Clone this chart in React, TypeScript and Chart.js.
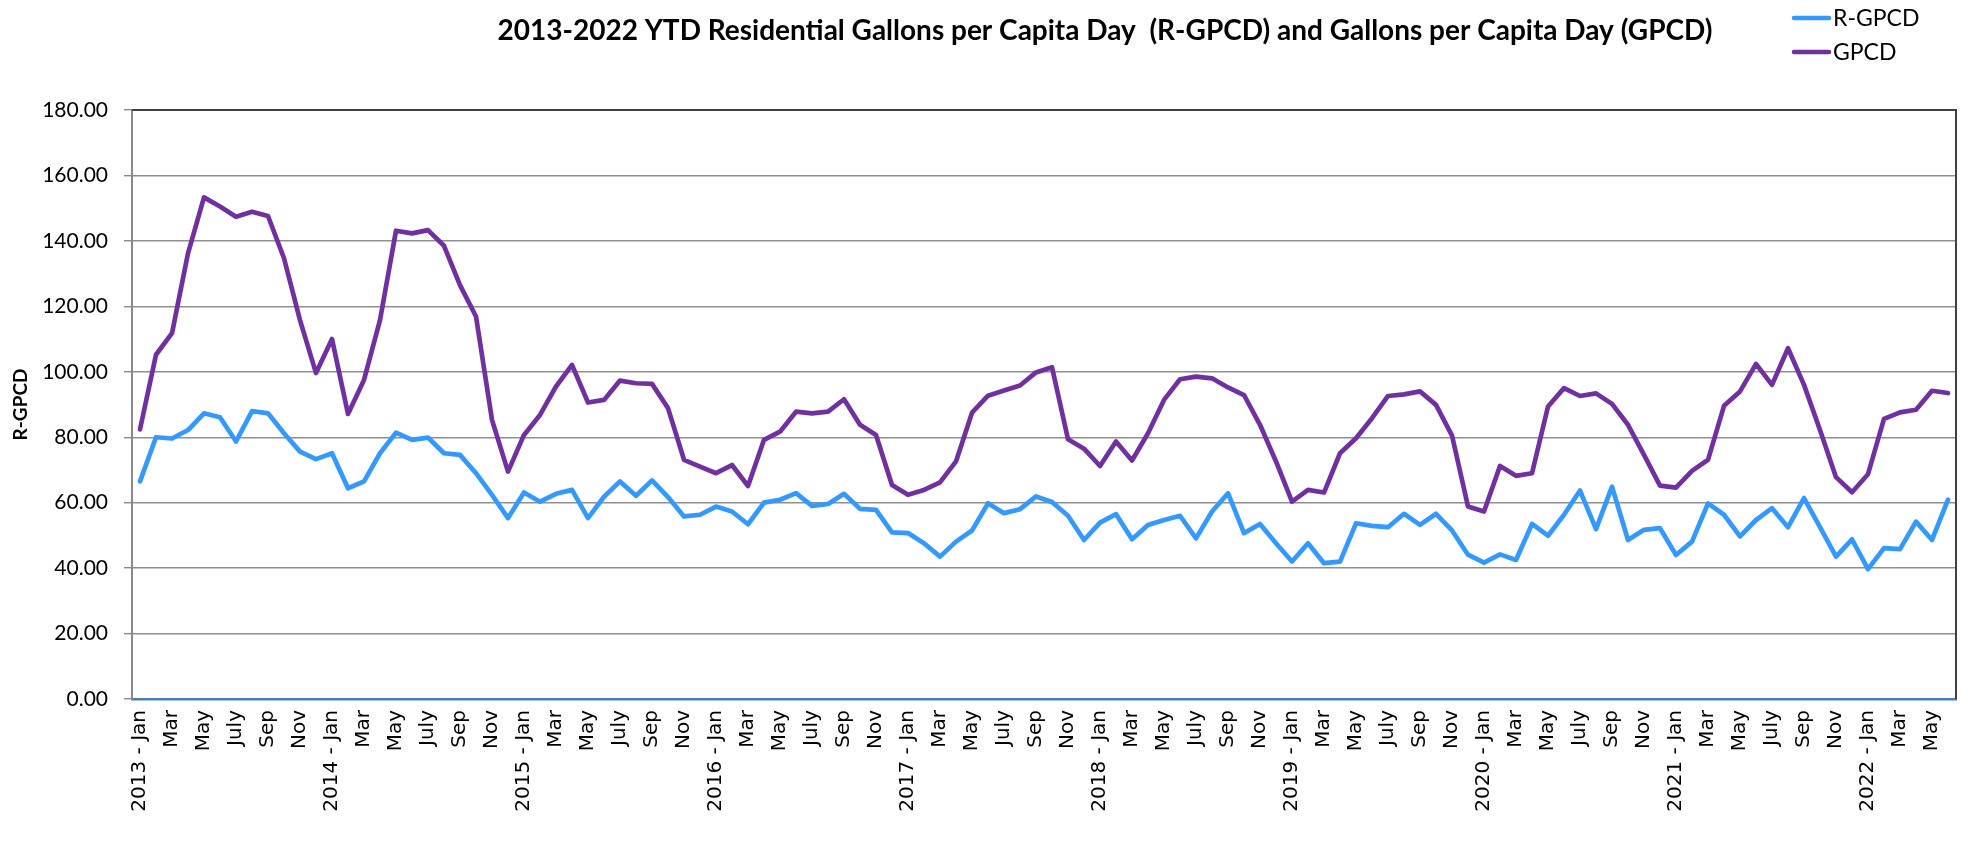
import React, { useEffect, useRef } from "react";
import { Chart, registerables } from "chart.js";

Chart.register(...registerables);

const chartTitle =
  "2013-2022 YTD Residential Gallons per Capita Day  (R-GPCD) and Gallons per Capita Day (GPCD)";
const yAxisTitle = "R-GPCD";

const years = [2013, 2014, 2015, 2016, 2017, 2018, 2019, 2020, 2021, 2022];
const monthNames = ["Jan", "Feb", "Mar", "Apr", "May", "June", "July", "Aug", "Sep", "Oct", "Nov", "Dec"];
const lastYearMonths = 6;

const categories: string[] = [];
years.forEach((y) => {
  monthNames.forEach((m, j) => {
    if (y === years[years.length - 1] && j >= lastYearMonths) return;
    categories.push(j === 0 ? `${y} - ${m}` : m);
  });
});

const rgpcd = [
  66.5, 80.0, 79.6, 82.2, 87.3, 86.1, 78.7, 88.0, 87.3, 81.2, 75.6, 73.3,
  75.1, 64.4, 66.5, 75.1, 81.4, 79.2, 79.9, 75.1, 74.6, 69.0, 62.4, 55.3,
  63.1, 60.3, 62.7, 63.9, 55.3, 61.8, 66.5, 62.1, 66.8, 61.7, 55.8, 56.3,
  58.8, 57.3, 53.4, 60.0, 60.9, 62.9, 59.0, 59.6, 62.7, 58.1, 57.8, 50.9,
  50.7, 47.6, 43.5, 48.1, 51.5, 59.8, 56.8, 58.0, 61.9, 60.2, 56.0, 48.6,
  53.9, 56.5, 48.8, 53.2, 54.7, 56.0, 49.1, 57.3, 62.9, 50.7, 53.5, 47.6,
  42.0, 47.6, 41.5, 42.0, 53.7, 52.9, 52.5, 56.6, 53.2, 56.6, 51.5, 44.1,
  41.7, 44.2, 42.5, 53.5, 49.9, 56.3, 63.7, 51.9, 64.9, 48.6, 51.7, 52.2,
  44.0, 48.1, 59.8, 56.3, 49.7, 54.7, 58.3, 52.5, 61.4, 52.5, 43.5, 48.8,
  39.7, 46.1, 45.8, 54.2, 48.6, 60.9,
];

const gpcd = [
  82.4, 105.2, 111.8, 136.2, 153.3, 150.5, 147.4, 148.9, 147.6, 134.7, 115.8, 99.6,
  110.0, 87.1, 97.5, 115.8, 143.1, 142.3, 143.3, 138.5, 126.5, 116.9, 85.3, 69.5,
  80.7, 86.8, 95.5, 102.1, 90.6, 91.4, 97.3, 96.5, 96.3, 88.9, 73.1, 71.0,
  69.0, 71.5, 65.1, 79.2, 81.7, 87.8, 87.3, 87.8, 91.6, 83.8, 80.7, 65.4,
  62.4, 63.9, 66.2, 72.6, 87.5, 92.7, 94.3, 95.8, 99.8, 101.4, 79.4, 76.5,
  71.2, 78.7, 72.9, 81.2, 91.4, 97.7, 98.5, 98.0, 95.2, 92.9, 83.8, 72.6,
  60.3, 63.9, 63.1, 75.1, 79.7, 85.8, 92.6, 93.1, 94.0, 89.9, 80.5, 58.8,
  57.3, 71.2, 68.2, 69.0, 89.4, 95.0, 92.6, 93.4, 90.2, 83.8, 74.6, 65.2,
  64.6, 69.7, 73.1, 89.6, 94.0, 102.4, 96.0, 107.2, 96.0, 82.2, 67.8, 63.2,
  68.7, 85.6, 87.6, 88.4, 94.2, 93.5,
];

const seriesNames = ["R-GPCD", "GPCD"];
const seriesColors = ["#3399FF", "#7030A0"];

const yMin = 0;
const yMax = 180;
const yStep = 20;

const titleLegendPlugin = {
  id: "titleLegend",
  afterDraw(chart: any) {
    const ctx = chart.ctx;
    ctx.save();
    ctx.fillStyle = "#000000";
    ctx.font = "bold 28px Lato";
    ctx.textAlign = "center";
    ctx.textBaseline = "middle";
    ctx.fillText(chartTitle, 1105, 31);

    chart.data.datasets.forEach((ds: any, i: number) => {
      const y = 18 + i * 34;
      ctx.strokeStyle = ds.borderColor;
      ctx.lineWidth = 4.5;
      ctx.lineCap = "round";
      ctx.beginPath();
      ctx.moveTo(1794, y);
      ctx.lineTo(1829, y);
      ctx.stroke();
      ctx.fillStyle = "#000000";
      ctx.font = "23px Lato";
      ctx.textAlign = "left";
      ctx.textBaseline = "middle";
      ctx.fillText(ds.label, 1833, y + 1);
    });
    ctx.restore();
  },
};

const plotBorderPlugin = {
  id: "plotBorder",
  beforeDatasetsDraw(chart: any) {
    const { ctx, chartArea } = chart;
    ctx.save();
    ctx.strokeStyle = "#404040";
    ctx.lineWidth = 2;
    ctx.beginPath();
    ctx.moveTo(chartArea.left, chartArea.top);
    ctx.lineTo(chartArea.right, chartArea.top);
    ctx.lineTo(chartArea.right, chartArea.bottom);
    ctx.stroke();
    ctx.restore();
  },
};

export default function App() {
  const canvasRef = useRef<HTMLCanvasElement | null>(null);

  useEffect(() => {
    if (!canvasRef.current) return;
    const chart = new Chart(canvasRef.current, {
      type: "line",
      data: {
        labels: categories,
        datasets: [
          {
            label: seriesNames[0],
            data: rgpcd,
            borderColor: seriesColors[0],
            backgroundColor: seriesColors[0],
            borderWidth: 4.7,
            pointRadius: 0,
            tension: 0,
            borderJoinStyle: "round",
            borderCapStyle: "round",
          },
          {
            label: seriesNames[1],
            data: gpcd,
            borderColor: seriesColors[1],
            backgroundColor: seriesColors[1],
            borderWidth: 4.7,
            pointRadius: 0,
            tension: 0,
            borderJoinStyle: "round",
            borderCapStyle: "round",
          },
        ],
      },
      options: {
        animation: false,
        responsive: false,
        maintainAspectRatio: false,
        devicePixelRatio: 1,
        layout: { padding: { top: 110, right: 5, bottom: 0, left: 0 } },
        plugins: {
          legend: { display: false },
          title: { display: false },
          tooltip: { enabled: false },
        },
        scales: {
          x: {
            type: "category",
            offset: true,
            grid: { display: false, drawTicks: false },
            border: { display: true, color: "#4A7EBB", width: 2.5 },
            ticks: {
              autoSkip: false,
              maxRotation: 90,
              minRotation: 90,
              padding: 11,
              color: "#000000",
              font: { family: "DejaVu Sans", size: 20 },
              callback: function (this: any, value: any, index: number) {
                return index % 2 === 0 ? this.getLabelForValue(value) : "";
              },
            },
            afterFit: (scale: any) => {
              scale.height = 143;
              scale.paddingLeft = 0;
              scale.paddingRight = 0;
            },
          },
          y: {
            min: yMin,
            max: yMax,
            grid: {
              color: (c: any) =>
                c.tick && (c.tick.value === yMin || c.tick.value === yMax)
                  ? "rgba(0,0,0,0)"
                  : "#8f8f8f",
              lineWidth: 1.4,
              tickLength: 8,
              tickColor: "#8a8a8a",
            },
            border: { display: true, color: "#8a8a8a", width: 2 },
            ticks: {
              stepSize: yStep,
              padding: 16,
              color: "#000000",
              font: { family: "Lato", size: 21 },
              callback: (v: any) => Number(v).toFixed(2),
            },
            title: {
              display: true,
              text: yAxisTitle,
              color: "#000000",
              font: { family: "Lato", size: 19, weight: "bold" },
              padding: { top: 9, bottom: 0 },
            },
            afterFit: (scale: any) => {
              scale.width = 132;
            },
          },
        },
      },
      plugins: [plotBorderPlugin, titleLegendPlugin],
    });
    return () => chart.destroy();
  }, []);

  return (
    <div
      style={{
        position: "fixed",
        left: 0,
        top: 0,
        width: "1961px",
        height: "842px",
        background: "#ffffff",
        overflow: "hidden",
      }}
    >
      <canvas
        ref={canvasRef}
        width={1961}
        height={842}
        style={{ display: "block", width: "1961px", height: "842px" }}
      />
    </div>
  );
}
